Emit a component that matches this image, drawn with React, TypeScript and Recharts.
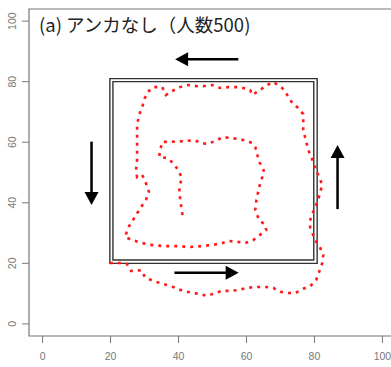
import { ComposedChart, Line, XAxis, YAxis, ReferenceArea, ReferenceLine } from "recharts";

// axis ticks (same for both axes)
const axisTicks = [0, 20, 40, 60, 80, 100];

// red dotted spiral, traced from the outer end (bottom left) to the inner end
const spiralX = [
  19.8, 22.8, 24.8, 26.0, 27.8, 29.0, 30.1, 32.5, 35.5, 38.4, 41.3, 44.3, 46.4, 48.4, 50.8, 52.8,
  55.2, 57.6, 60.2, 62.6, 65.5, 67.9, 69.9, 72.0, 74.4, 76.7, 78.8, 80.5, 81.4, 82.3, 82.6, 81.7,
  80.2, 79.4, 78.8, 78.5, 79.1, 80.2, 81.1, 81.7, 82.3, 81.4, 80.2, 79.4, 78.2, 77.3, 76.7, 76.7,
  76.7, 75.2, 73.5, 72.0, 70.5, 67.9, 66.1, 63.5, 61.7, 61.1, 59.0, 57.3, 54.6, 52.3, 49.9, 47.2,
  45.5, 42.8, 40.5, 38.1, 36.3, 35.2, 32.5, 31.0, 30.1, 29.3, 28.4, 27.8, 27.8, 27.8, 27.8, 27.8,
  27.5, 27.8, 29.3, 30.4, 31.3, 30.4, 29.0, 27.5, 26.3, 25.1, 24.3, 26.3, 29.3, 31.6, 35.5, 39.6,
  43.4, 47.2, 49.9, 52.3, 54.6, 57.3, 59.6, 62.0, 64.0, 65.8, 65.5, 63.7, 62.6, 62.9, 63.7, 64.3,
  65.2, 64.9, 63.7, 63.2, 62.6, 61.7, 60.2, 57.6, 55.2, 53.1, 50.8, 48.4, 46.9, 44.6, 42.2, 37.5,
  35.2, 34.6, 34.3, 36.6, 38.4, 39.9, 41.0, 40.2, 40.5, 41.3,
];
const spiralY = [
  20.1, 20.1, 19.8, 17.5, 17.5, 17.8, 15.5, 14.2, 13.2, 12.2, 10.9, 10.2, 9.9, 9.2, 10.2, 10.9,
  10.9, 11.2, 11.9, 12.2, 12.2, 11.9, 10.6, 10.2, 10.2, 11.6, 12.5, 14.5, 17.2, 20.1, 22.8, 25.1,
  27.7, 30.0, 31.7, 33.3, 35.6, 38.6, 40.9, 43.6, 45.9, 48.5, 51.5, 54.1, 57.4, 61.4, 64.0, 66.7,
  69.3, 71.3, 72.9, 75.6, 77.9, 79.9, 78.9, 76.9, 75.6, 77.2, 77.9, 78.2, 78.2, 77.9, 78.9, 78.5,
  78.5, 78.9, 78.2, 76.9, 75.6, 78.2, 78.2, 76.6, 74.6, 71.6, 69.0, 65.7, 62.4, 59.7, 56.8, 54.1,
  50.8, 48.5, 49.2, 46.5, 43.6, 40.9, 38.6, 36.0, 33.7, 31.7, 28.7, 27.7, 26.7, 26.1, 25.7, 25.7,
  25.4, 25.7, 26.1, 26.4, 27.4, 27.1, 26.7, 27.7, 29.4, 31.0, 32.7, 34.3, 37.6, 40.9, 44.9, 47.5,
  49.8, 51.5, 53.5, 55.8, 58.4, 59.7, 60.4, 61.1, 61.4, 61.7, 60.4, 59.4, 59.7, 60.7, 60.4, 60.1,
  60.1, 57.4, 55.1, 54.8, 53.1, 50.8, 48.2, 45.2, 40.9, 35.0,
];

// double-line square: [x1, x2, y1, y2]
const outerBox = [19.8, 80.8, 20.0, 81.0];
const innerBox = [20.7, 79.8, 21.1, 80.0];

// arrows: [tailX, tailY, tipX, tipY]
const arrowTop = [57.6, 87.4, 39.0, 87.4];
const arrowLeft = [14.4, 60.2, 14.4, 39.3];
const arrowBottom = [38.8, 16.9, 57.7, 16.9];
const arrowRight = [86.8, 37.9, 86.8, 59.1];
const arrows = [arrowTop, arrowLeft, arrowBottom, arrowRight];

const spiral = spiralX.map((x, i) => ({ x, y: spiralY[i] }));

const tickFont = "'Liberation Sans', Arial, sans-serif";

function XTick(props: any) {
  const { x, y, payload } = props;
  return (
    <text x={x} y={y + 16.5} textAnchor="middle" fontSize={10.5} fontFamily={tickFont} fill="#777">
      {payload.value}
    </text>
  );
}

function YTick(props: any) {
  const { y, payload } = props;
  const cx = 16;
  return (
    <text
      x={cx}
      y={y}
      transform={`rotate(-90 ${cx} ${y})`}
      textAnchor="middle"
      fontSize={10.5}
      fontFamily={tickFont}
      fill="#777"
    >
      {payload.value}
    </text>
  );
}

function Arrow(props: any) {
  const { x1, y1, x2, y2 } = props;
  const dx = x2 - x1;
  const dy = y2 - y1;
  const len = Math.hypot(dx, dy) || 1;
  const ux = dx / len;
  const uy = dy / len;
  const head = 13;
  const half = 7;
  const bx = x2 - ux * head;
  const by = y2 - uy * head;
  return (
    <g>
      <line x1={x1} y1={y1} x2={bx + ux} y2={by + uy} stroke="#000" strokeWidth={2.5} />
      <polygon
        points={`${x2},${y2} ${bx - uy * half},${by + ux * half} ${bx + uy * half},${by - ux * half}`}
        fill="#000"
      />
    </g>
  );
}

export default function App() {
  return (
    <div
      style={{
        position: "absolute",
        left: 0,
        top: 0,
        width: 391,
        height: 367,
        overflow: "hidden",
        background: "#fff",
      }}
    >
      <ComposedChart width={396} height={367} margin={{ top: 9, right: 0, bottom: 0, left: 0 }}>
        <XAxis
          type="number"
          dataKey="x"
          domain={[-4, 104]}
          ticks={axisTicks}
          allowDataOverflow
          axisLine={false}
          tickSize={7}
          tickMargin={0}
          tickLine={{ stroke: "#777" }}
          tick={<XTick />}
          height={31}
        />
        <YAxis
          type="number"
          dataKey="y"
          domain={[-4, 104]}
          ticks={axisTicks}
          allowDataOverflow
          axisLine={false}
          tickSize={7}
          tickMargin={0}
          tickLine={{ stroke: "#777" }}
          tick={<YTick />}
          width={29}
        />
        <ReferenceArea x1={-4} x2={104} y1={-4} y2={104} fill="none" fillOpacity={0} stroke="#777" strokeWidth={1.2} />
        <ReferenceArea
          x1={outerBox[0]}
          x2={outerBox[1]}
          y1={outerBox[2]}
          y2={outerBox[3]}
          fill="none"
          fillOpacity={0}
          stroke="#333"
          strokeWidth={1.4}
        />
        <ReferenceArea
          x1={innerBox[0]}
          x2={innerBox[1]}
          y1={innerBox[2]}
          y2={innerBox[3]}
          fill="none"
          fillOpacity={0}
          stroke="#333"
          strokeWidth={1.4}
        />
        {arrows.map((a, i) => (
          <ReferenceLine
            key={i}
            segment={[
              { x: a[0], y: a[1] },
              { x: a[2], y: a[3] },
            ]}
            shape={Arrow}
          />
        ))}
        <Line
          data={spiral}
          dataKey="y"
          type="linear"
          stroke="#ff1a1a"
          strokeWidth={2.6}
          strokeDasharray="3 5"
          dot={false}
          activeDot={false}
          isAnimationActive={false}
        />
      </ComposedChart>
      <div
        style={{
          position: "absolute",
          left: 39,
          top: 14,
          fontFamily: "'Noto Sans CJK JP', sans-serif",
          fontSize: 18.5,
          lineHeight: "20px",
          color: "#222",
          whiteSpace: "nowrap",
        }}
      >
        (a) アンカなし（人数500)
      </div>
    </div>
  );
}
